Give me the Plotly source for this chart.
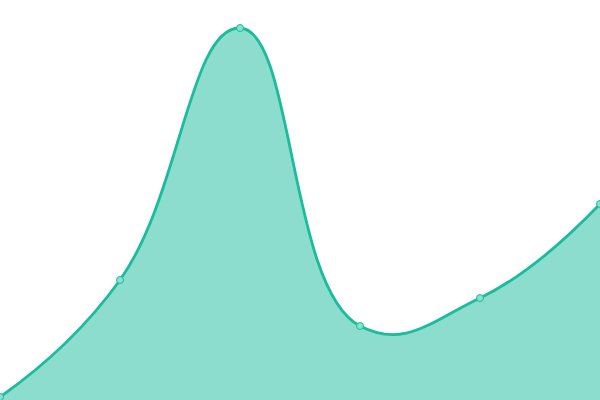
import plotly.graph_objects as go

x_vals = [0, 1, 2, 3, 4, 5]
y_vals = [3, 120, 372, 74, 102, 196]

fig = go.Figure()
fig.add_trace(go.Scatter(
    x=x_vals, y=y_vals,
    mode="lines+markers",
    line=dict(color="#1abc9c", width=2.8, shape="spline", smoothing=1.3),
    fill="tozeroy",
    fillcolor="rgba(26,188,156,0.5)",
    marker=dict(size=7, color="#8ae0d0", line=dict(color="#1abc9c", width=1)),
    cliponaxis=False,
))
fig.update_layout(
    width=600, height=400,
    margin=dict(l=0, r=0, t=0, b=0),
    paper_bgcolor="white", plot_bgcolor="white",
    showlegend=False,
    xaxis=dict(range=[0, 5], visible=False),
    yaxis=dict(range=[0, 400], visible=False),
)
fig.write_html(
    "out.html",
    config={"displayModeBar": False, "staticPlot": True},
    post_script="document.body.style.margin='0';document.body.style.overflow='hidden';",
)
